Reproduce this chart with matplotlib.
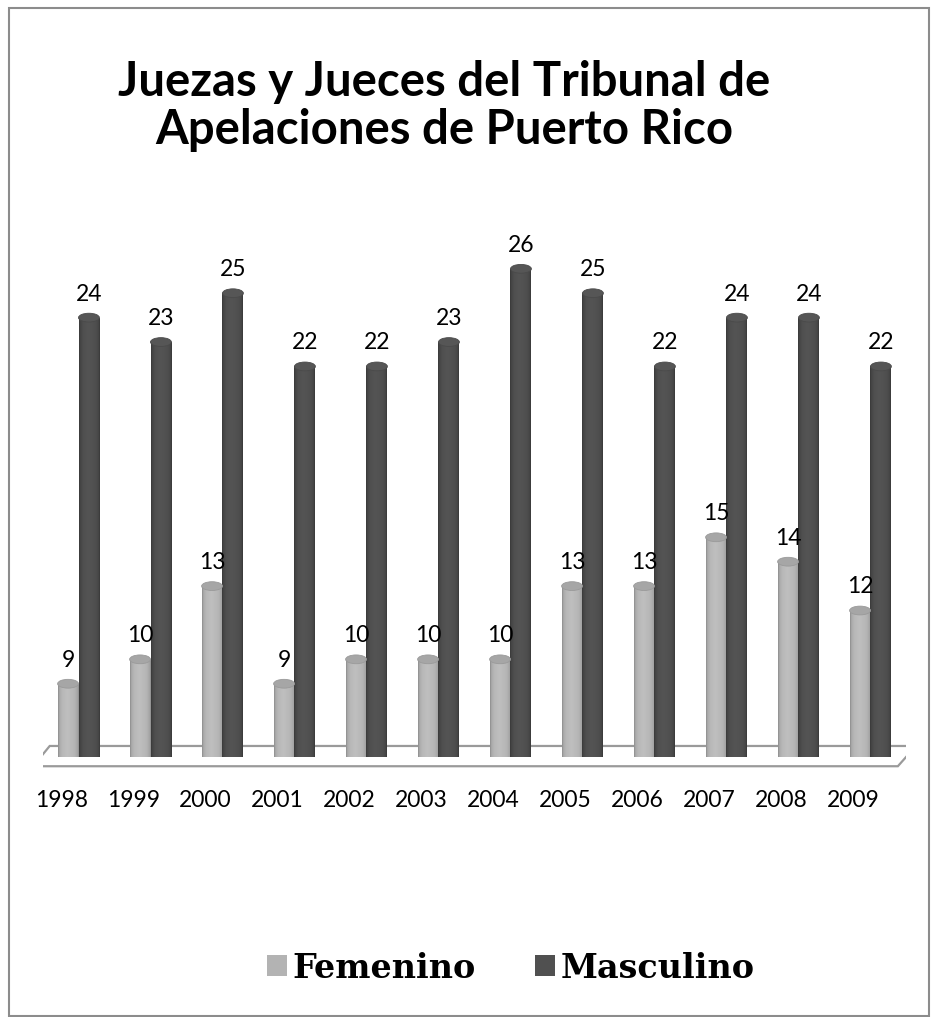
import numpy as np
import matplotlib
matplotlib.use("Agg")
import matplotlib.pyplot as plt
from matplotlib.patches import Ellipse, Rectangle, Polygon, Patch

years = ["1998", "1999", "2000", "2001", "2002", "2003", "2004", "2005", "2006", "2007", "2008", "2009"]
femenino = [9, 10, 13, 9, 10, 10, 10, 13, 13, 15, 14, 12]
masculino = [24, 23, 25, 22, 22, 23, 26, 25, 22, 24, 24, 22]

W, H = 932, 1017
fig = plt.figure(figsize=(W / 100, H / 100), dpi=100)
fig.patch.set_facecolor("white")

BASE = 6.0
YMIN, YMAX = 5.4, 28.0
ax = fig.add_axes([42.5 / W, (H - 771.6) / H, 864 / W, 551.6 / H])
ax.set_xlim(-0.5, 11.5)
ax.set_ylim(YMIN, YMAX)
ax.axis("off")

x = np.arange(len(years))
bw = 0.29

def profile(stops):
    t = np.linspace(0, 1, 64)
    v = np.interp(t, [0, 0.06, 0.2, 0.45, 0.8, 0.95, 1], stops)
    return np.dstack([v, v, v])[0:1]

fem_prof = profile([0.55, 0.66, 0.72, 0.75, 0.71, 0.64, 0.55])
mas_prof = profile([0.22, 0.27, 0.31, 0.33, 0.31, 0.27, 0.22])
cap_h = 0.36

def cylinders(xs, vals, prof, capcol, edgecol):
    bars = ax.bar(xs, np.array(vals) - BASE, bottom=BASE, width=bw,
                  color=capcol, edgecolor="none", zorder=3)
    for b, v in zip(bars, vals):
        x0 = b.get_x()
        im = ax.imshow(prof, extent=[x0, x0 + bw, BASE - 0.15, v], aspect="auto",
                       zorder=3.1, interpolation="bilinear")
        im.set_clip_path(b)
        e = Ellipse((x0 + bw / 2, v), bw, cap_h, facecolor=capcol,
                    edgecolor=edgecol, lw=0.6, zorder=3.2)
        ax.add_patch(e)
    return bars

# floor
floor = Polygon([(-0.40, 6.45), (11.63, 6.45), (11.38, 5.62), (-0.63, 5.62)],
                closed=True, facecolor="white", edgecolor="#9a9a9a", lw=1.6, zorder=2)
ax.add_patch(floor)

cylinders(x - bw / 2, femenino, fem_prof, "#a6a6a6", "#9a9a9a")
cylinders(x + bw / 2, masculino, mas_prof, "#565656", "#4a4a4a")
ax.set_aspect("auto")

lab_font = dict(family="Lato", fontsize=16.5, color="black")
for xi, v in zip(x - bw / 2, femenino):
    ax.annotate(str(v), (xi, v), xytext=(0, 17), textcoords="offset points",
                ha="center", va="center", zorder=5, **lab_font)
for xi, v in zip(x + bw / 2, masculino):
    ax.annotate(str(v), (xi, v), xytext=(0, 17), textcoords="offset points",
                ha="center", va="center", zorder=5, **lab_font)

for xi, yr in zip(x - 0.24, years):
    ax.annotate(yr, (xi, YMIN), xytext=(0, -21), textcoords="offset points",
                ha="center", va="center", **lab_font)

fig.text(0.477, (H - 106) / H, "Juezas y Jueces del Tribunal de\nApelaciones de Puerto Rico",
         ha="center", va="center", family="Lato", fontweight="bold", fontsize=34,
         linespacing=1.1)

handles = [Patch(facecolor="#b3b3b3", edgecolor="none"),
           Patch(facecolor="#505050", edgecolor="none")]
fig.legend(handles, ["Femenino", "Masculino"], loc="center", ncol=2,
           bbox_to_anchor=(0.548, (H - 968) / H), frameon=False,
           prop=dict(family="DejaVu Serif", weight="bold", size=24),
           handlelength=0.6, handleheight=0.6, handletextpad=0.15, columnspacing=1.8)

fig.add_artist(Rectangle((8.5 / W, 1.5 / H), (929 - 8.5) / W, (1009.5 - 1.5) / H,
                         transform=fig.transFigure, facecolor="none",
                         edgecolor="#8c8c8c", lw=1.5))

fig.savefig("out.png", dpi=100)
